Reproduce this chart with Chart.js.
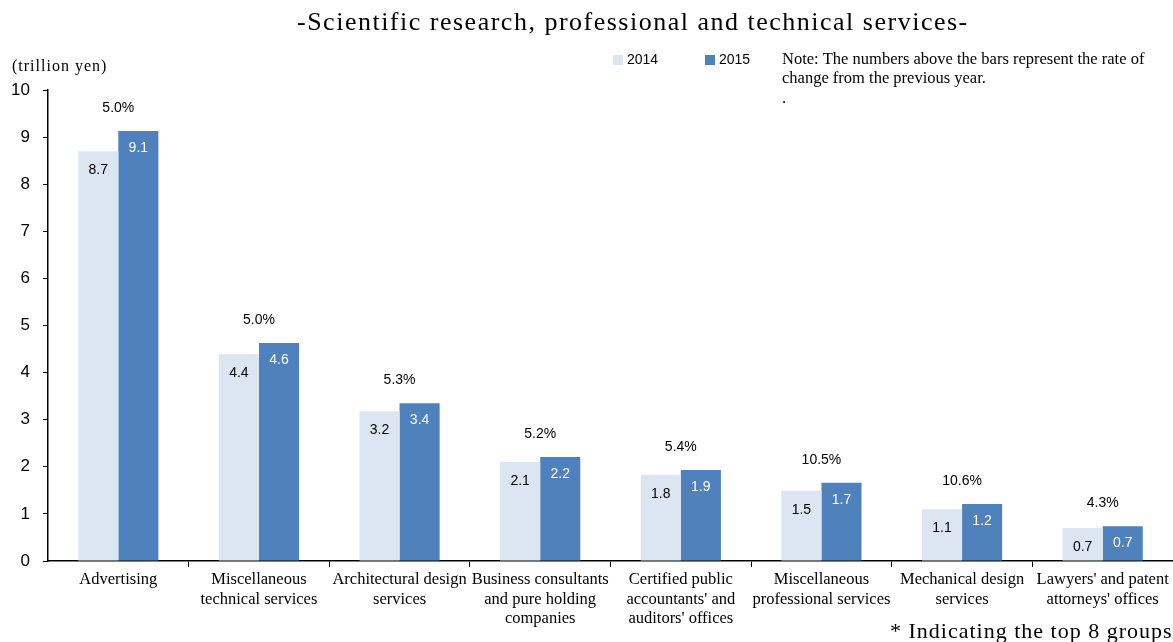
<!DOCTYPE html>
<html>
<head>
<meta charset="utf-8">
<script src="https://cdn.jsdelivr.net/npm/chart.js@4"></script>
<style>
  body { margin: 0; background: #fff; }
  #wrap { width: 1173px; height: 642px; position: relative; }
</style>
</head>
<body>
<div id="wrap"><canvas id="mycanvas"></canvas></div>
<script>
// categories (multi-line labels)
var categories = [
  ['Advertising'],
  ['Miscellaneous', 'technical services'],
  ['Architectural design', 'services'],
  ['Business consultants', 'and pure holding', 'companies'],
  ['Certified public', "accountants' and", "auditors' offices"],
  ['Miscellaneous', 'professional services'],
  ['Mechanical design', 'services'],
  ["Lawyers' and patent", "attorneys' offices"]
];
var sales2014 = [8.70, 4.39, 3.18, 2.10, 1.83, 1.49, 1.10, 0.70];
var sales2015 = [9.13, 4.63, 3.35, 2.21, 1.93, 1.66, 1.21, 0.74];
var changeRate = ['5.0%', '5.0%', '5.3%', '5.2%', '5.4%', '10.5%', '10.6%', '4.3%'];
var yTicks = [0, 1, 2, 3, 4, 5, 6, 7, 8, 9, 10];

var light = '#DCE6F2';
var dark = '#4F81BD';
var serif = '"Liberation Serif", "Times New Roman", serif';
var sans = '"Liberation Sans", Arial, sans-serif';

// draws value labels, rates, title, legend and notes
var annotate = {
  id: 'annotate',
  afterDatasetsDraw: function(chart) {
    var ctx = chart.ctx;
    var m14 = chart.getDatasetMeta(0).data;
    var m15 = chart.getDatasetMeta(1).data;
    ctx.save();
    ctx.textAlign = 'center';
    ctx.textBaseline = 'middle';
    ctx.font = '14px ' + sans;
    for (var i = 0; i < categories.length; i++) {
      ctx.fillStyle = '#000';
      ctx.fillText(sales2014[i].toFixed(1), m14[i].x, m14[i].y + 19);
      ctx.fillStyle = '#fff';
      ctx.fillText(sales2015[i].toFixed(1), m15[i].x, m15[i].y + 17);
      ctx.fillStyle = '#000';
      ctx.fillText(changeRate[i], (m14[i].x + m15[i].x) / 2, m15[i].y - 23);
    }

    // title
    ctx.textAlign = 'left';
    ctx.font = '26px ' + serif;
    ctx.letterSpacing = '1.5px';
    ctx.fillText('-Scientific research, professional and technical services-', 297, 23);

    // unit
    ctx.font = '16px ' + serif;
    ctx.letterSpacing = '1px';
    ctx.fillText('(trillion yen)', 12, 67);
    ctx.letterSpacing = '0px';

    // legend
    ctx.fillStyle = light;
    ctx.fillRect(613, 55, 10, 10);
    ctx.fillStyle = dark;
    ctx.fillRect(705, 55, 10, 10);
    ctx.fillStyle = '#000';
    ctx.font = '14px ' + sans;
    ctx.fillText('2014', 627, 60);
    ctx.fillText('2015', 719, 60);

    // note
    ctx.font = '16.5px ' + serif;
    ctx.fillText('Note: The numbers above the bars represent the rate of', 782, 60);
    ctx.fillText('change from the previous year.', 782, 79);
    ctx.fillText('.', 782, 99);

    ctx.font = '22px ' + serif;
    ctx.letterSpacing = '1px';
    ctx.fillText('* Indicating the top 8 groups', 890, 632);
    ctx.restore();
  }
};

var chartdata = {
  labels: categories,
  datasets: [
    {
      label: '2014',
      backgroundColor: light,
      data: sales2014,
      categoryPercentage: 0.57,
      barPercentage: 1.0
    },
    {
      label: '2015',
      backgroundColor: dark,
      data: sales2015,
      categoryPercentage: 0.57,
      barPercentage: 1.0
    }
  ]
};

var barGraph = new Chart(document.getElementById('mycanvas'), {
  type: 'bar',
  data: chartdata,
  plugins: [annotate],
  options: {
    responsive: true,
    maintainAspectRatio: false,
    animation: false,
    layout: { padding: { top: 90, right: 0, left: 0, bottom: 0 } },
    plugins: {
      legend: { display: false },
      title: { display: false },
      tooltip: { enabled: false }
    },
    scales: {
      x: {
        grid: {
          display: true,
          drawOnChartArea: false,
          tickLength: 6,
          offset: true,
          color: function(c) { return c.index === 0 ? 'rgba(0,0,0,0)' : '#000'; }
        },
        border: { color: '#000', width: 1.5 },
        ticks: {
          color: '#000',
          font: { family: serif, size: 16.5, lineHeight: 1.18 },
          padding: 3,
          maxRotation: 0,
          autoSkip: false
        },
        afterFit: function(scale) { scale.height = 81; }
      },
      y: {
        min: 0,
        max: 10,
        afterBuildTicks: function(scale) {
          scale.ticks = yTicks.map(function(v) { return { value: v }; });
        },
        grid: { display: true, drawOnChartArea: false, tickLength: 5, color: '#000' },
        border: { color: '#000', width: 1.5 },
        ticks: {
          color: '#000',
          font: { family: sans, size: 17 },
          padding: 13
        },
        afterFit: function(scale) { scale.width = 48; }
      }
    }
  }
});
</script>
</body>
</html>
